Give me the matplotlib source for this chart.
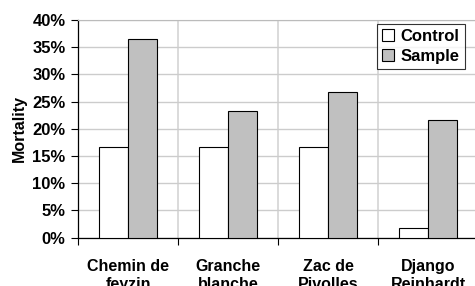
import matplotlib
matplotlib.use("Agg")
import matplotlib.pyplot as plt
from matplotlib.ticker import FixedLocator
import numpy as np

categories = ["Chemin de\nfeyzin", "Granche\nblanche", "Zac de\nPivolles", "Django\nReinhardt"]
control = [16.7, 16.7, 16.7, 1.7]
sample = [36.6, 23.3, 26.7, 21.7]
yticks = [0, 5, 10, 15, 20, 25, 30, 35, 40]
ytick_labels = [f"{v}%" for v in yticks]

plt.rcParams['font.family'] = ['Liberation Sans', 'DejaVu Sans']
plt.rcParams['font.weight'] = 'bold'

fig = plt.figure(figsize=(4.75, 2.86), dpi=100)
ax = fig.add_axes([78/475, 48.3/286, 400/475, 217.7/286])

x = np.arange(len(categories))
w = 0.29
ax.bar(x - w/2, control, w, color='white', edgecolor='black', linewidth=0.8, label='Control', zorder=3)
ax.bar(x + w/2, sample, w, color='#c0c0c0', edgecolor='black', linewidth=0.8, label='Sample', zorder=3)

ax.set_xlim(-0.5, len(categories) - 0.5)
ax.set_ylim(0, 40)
ax.set_yticks(yticks)
ax.set_yticklabels(ytick_labels, fontsize=12, fontweight='bold')
ax.tick_params(axis='y', direction='out', length=5, width=0.8, pad=4)

ax.xaxis.set_major_locator(FixedLocator(np.arange(-0.5, len(categories), 1.0)))
ax.set_xticklabels([])
ax.xaxis.set_minor_locator(FixedLocator(x))
ax.set_xticklabels(categories, minor=True, fontsize=11.5, fontweight='bold', linespacing=1.25)
ax.tick_params(axis='x', which='major', direction='out', length=5, width=0.8)
ax.tick_params(axis='x', which='minor', length=0, pad=15)

ax.grid(True, axis='y', color='#cccccc', linewidth=1.0, zorder=0)
ax.grid(True, axis='x', which='major', color='#d4d4d4', linewidth=1.2, zorder=0)
ax.set_axisbelow(True)

ax.spines['right'].set_visible(False)
ax.spines['top'].set_color('#bbbbbb')
ax.spines['left'].set_linewidth(0.9)
ax.spines['bottom'].set_linewidth(0.9)

ax.set_ylabel('Mortality', fontsize=11.5, fontweight='bold', labelpad=4)

leg = fig.legend(loc='upper right', bbox_to_anchor=(464.7/475, 1 - 24/286),
                 frameon=True, fancybox=False, shadow=False, borderaxespad=0,
                 prop={'size': 12, 'weight': 'bold'}, handlelength=0.7, handleheight=0.7,
                 handletextpad=0.4, borderpad=0.3, labelspacing=0.3)
leg.get_frame().set_edgecolor('black')
leg.get_frame().set_linewidth(0.8)

fig.savefig('out.png', dpi=100)
